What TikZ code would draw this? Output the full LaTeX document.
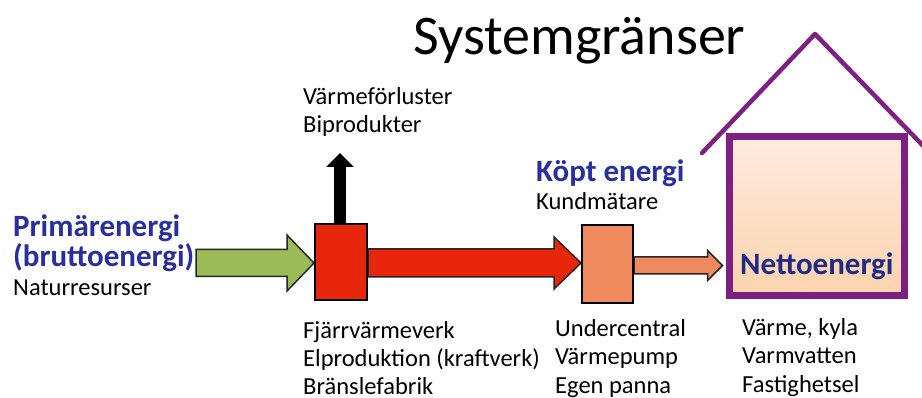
\documentclass[tikz,border=0pt]{standalone}
\usepackage{fontspec}
\setmainfont{Carlito}
\usetikzlibrary{calc,arrows.meta}
\definecolor{arrgreen}{HTML}{9BBB59}
\definecolor{arrred}{HTML}{E8260C}
\definecolor{arrorange}{HTML}{EE8A5E}
\definecolor{hpurple}{HTML}{7E2082}
\definecolor{tblue}{HTML}{2A2FA0}
\definecolor{nblue}{HTML}{1F2A85}
\definecolor{htop}{HTML}{FDEBDD}
\definecolor{hbot}{HTML}{FCD3AE}
\tikzset{
  body/.style={anchor=base west, inner sep=0pt, font=\fontsize{24.5}{28.5}\selectfont, align=left},
  btitle/.style={anchor=base west, inner sep=0pt, font=\fontsize{31}{30.5}\selectfont\bfseries, text=tblue, align=left},
  blockbox/.style={draw=black, line width=2pt, inner sep=0pt},
  fatarrow/.style={draw=black!85, line width=1.5pt, line join=miter},
}
\begin{document}
\begin{tikzpicture}[x=1pt,y=-1pt]
\useasboundingbox (0,0) rectangle (922,398);
\fill[white] (0,0) rectangle (922,398);

% title
\node[anchor=base west, inner sep=0pt, font=\fontsize{56}{60}\selectfont] (title) at (413,55) {Systemgränser};

% house
\node[draw=hpurple, line width=7pt, top color=htop, bottom color=hbot, minimum width=175pt, minimum height=159pt, inner sep=0pt] (house) at (816.5,216.5) {};
\coordinate (roofL) at (702,153);
\coordinate (apex) at (815,34);
\coordinate (roofR) at (933,156);
\draw[hpurple, line width=4.5pt, line cap=round, line join=round] (roofL) -- (apex) -- (roofR);

% boxes
\node[blockbox, fill=arrred, minimum width=52pt, minimum height=76pt] (box1) at (341,262) {};
\node[blockbox, fill=arrorange, minimum width=51pt, minimum height=78pt] (box2) at (607.5,264.5) {};

% green arrow
\coordinate (gstart) at (196,263);
\coordinate (gtip) at (box1.west |- gstart);
\filldraw[fatarrow, fill=arrgreen] let \p1=(gstart), \p2=(gtip) in
  (\x1,\y1+13.5pt) -- (\x2-27pt,\y1+13.5pt) -- (\x2-27pt,\y1+28pt) -- (\x2,\y1)
  -- (\x2-27pt,\y1-28pt) -- (\x2-27pt,\y1-13.5pt) -- (\x1,\y1-13.5pt) -- cycle;

% red arrow
\filldraw[fatarrow, fill=arrred] let \p1=(box1.east), \p2=(box2.west) in
  (\x1,-263pt+14pt) -- (\x2-27pt,-263pt+14pt) -- (\x2-27pt,-263pt+26pt) -- (\x2,-263pt)
  -- (\x2-27pt,-263pt-26pt) -- (\x2-27pt,-263pt-14pt) -- (\x1,-263pt-14pt) -- cycle;

% orange arrow
\filldraw[fatarrow, fill=arrorange] let \p1=(box2.east), \p2=(house.west) in
  (\x1,-265.5pt+8.5pt) -- (\x2-18pt,-265.5pt+8.5pt) -- (\x2-18pt,-265.5pt+15pt) -- (\x2-3pt,-265.5pt)
  -- (\x2-18pt,-265.5pt-15pt) -- (\x2-18pt,-265.5pt-8.5pt) -- (\x1,-265.5pt-8.5pt) -- cycle;

% redraw boxes on top
\node[blockbox, fill=arrred, minimum width=52pt, minimum height=76pt] at (box1) {};
\node[blockbox, fill=arrorange, minimum width=51pt, minimum height=78pt] at (box2) {};

% loss arrow
\coordinate (losstip) at (340,153);
\draw[line width=12pt, -{Triangle[width=27pt,length=14pt]}] ($(box1.north)+(-1,0)$) -- (losstip);

% texts (base = baseline of the last line)
\node[body] (loss) at (303,133) {Värmeförluster\\Biprodukter};
\node[btitle] (kopt) at (536,182) {Köpt energi};
\node[body] (kund) at (536,210) {Kundmätare};
\node[btitle] (prim) at (13,267) {Primärenergi\\(bruttoenergi)};
\node[body] (natur) at (13,296) {Naturresurser};
\node[btitle, text=nblue] (netto) at (740,275) {Nettoenergi};
\node[body] (fjarr) at (303,395) {Fjärrvärmeverk\\Elproduktion (kraftverk)\\Bränslefabrik};
\node[body] (under) at (555,393) {Undercentral\\Värmepump\\Egen panna};
\node[body] (varme) at (742,392) {Värme, kyla\\Varmvatten\\Fastighetsel};
\end{tikzpicture}
\end{document}
